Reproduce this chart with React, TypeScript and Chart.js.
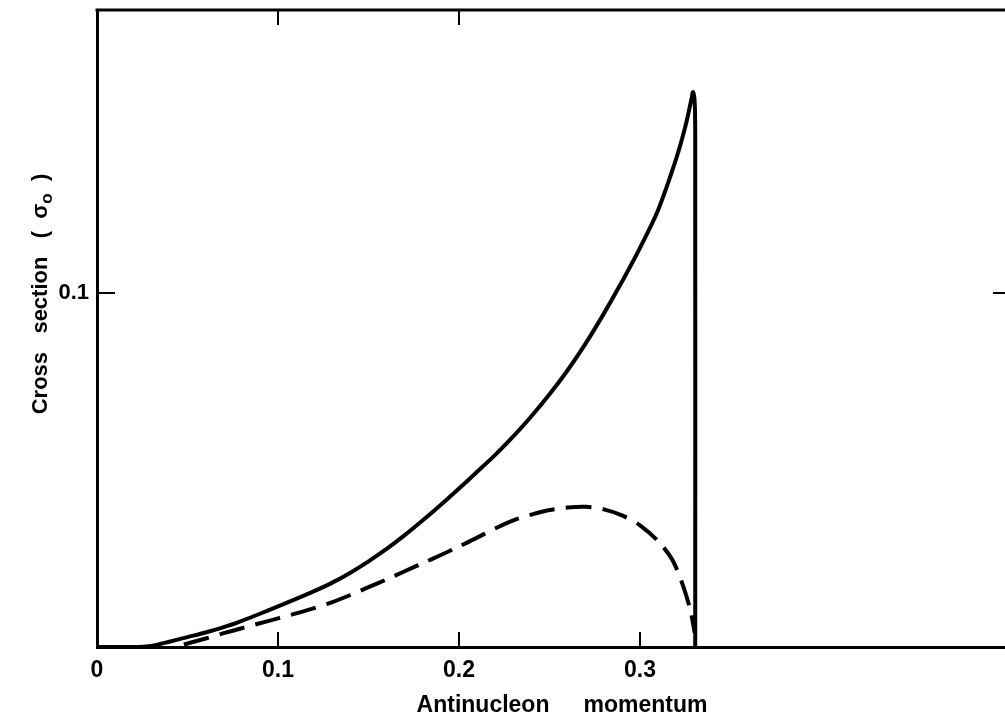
import React, { useEffect, useRef } from "react";
import { Chart, registerables } from "chart.js";

Chart.register(...registerables);

// Total cross section (solid) and partial contribution (dashed) vs antinucleon momentum
const solidMomentum = [0, 0.02, 0.03, 0.04, 0.05, 0.06, 0.07, 0.08, 0.09, 0.1, 0.11, 0.12, 0.13, 0.14, 0.15, 0.16, 0.17, 0.18, 0.19, 0.2, 0.21, 0.22, 0.23, 0.24, 0.25, 0.26, 0.27, 0.28, 0.29, 0.3, 0.31, 0.32, 0.325, 0.3285, 0.3293, 0.3302, 0.3305, 0.3305];
const solidCross = [0, 0, 0.0003, 0.0015, 0.0028, 0.0041, 0.0056, 0.0074, 0.0094, 0.0115, 0.0136, 0.0158, 0.0182, 0.021, 0.0242, 0.0277, 0.0316, 0.0358, 0.0402, 0.0448, 0.0495, 0.0543, 0.0595, 0.0652, 0.0714, 0.0782, 0.0858, 0.0942, 0.1032, 0.1128, 0.1235, 0.138, 0.147, 0.155, 0.1568, 0.154, 0.145, 0];

const dashedMomentum = [0.048, 0.06, 0.07, 0.08, 0.09, 0.1, 0.11, 0.12, 0.13, 0.14, 0.15, 0.16, 0.17, 0.18, 0.19, 0.2, 0.21, 0.22, 0.23, 0.24, 0.25, 0.26, 0.27, 0.28, 0.29, 0.3, 0.31, 0.318, 0.324, 0.328, 0.3302];
const dashedCross = [0.0007, 0.0024, 0.0039, 0.0053, 0.0067, 0.0081, 0.0095, 0.011, 0.0127, 0.0147, 0.0169, 0.0191, 0.0214, 0.0237, 0.026, 0.0284, 0.0309, 0.0335, 0.0358, 0.0374, 0.0387, 0.0394, 0.0396, 0.0389, 0.0372, 0.0344, 0.0299, 0.0245, 0.017, 0.01, 0.004];

const xTickValues = [0, 0.1, 0.2, 0.3];
const xTickLabels = ["0", "0.1", "0.2", "0.3"];
const yTickValues = [0.1];
const yTickLabels = ["0.1"];

const bottomMarks = [0.1, 0.2, 0.3];
const topMarks = [0.1, 0.2];
const leftMarks = [0.1];
const rightMarks = [0.1];

const xTitleWords = ["Antinucleon", "momentum"];
const yTitleMain = "Cross   section   (  \u03c3";
const yTitleSub = "o";
const yTitleEnd = "  )";

const INK = "#000";
const FONT = "'Liberation Sans', Arial, sans-serif";

const toPoints = (xs: number[], ys: number[]) => xs.map((x, i) => ({ x, y: ys[i] }));

const framePlugin = {
  id: "frameMarks",
  afterDraw(chart: any) {
    const { ctx, chartArea, scales } = chart;
    const xs = scales.x;
    const ys = scales.y;
    const L = 15;
    ctx.save();
    ctx.strokeStyle = INK;
    ctx.lineCap = "butt";
    // top frame line
    ctx.lineWidth = 3;
    ctx.beginPath();
    ctx.moveTo(chartArea.left - 1.5, chartArea.top);
    ctx.lineTo(chartArea.right + 2, chartArea.top);
    ctx.stroke();
    // inward tick marks
    ctx.lineWidth = 2;
    ctx.beginPath();
    bottomMarks.forEach((v) => {
      const px = Math.round(xs.getPixelForValue(v));
      ctx.moveTo(px, chartArea.bottom);
      ctx.lineTo(px, chartArea.bottom - L);
    });
    topMarks.forEach((v) => {
      const px = Math.round(xs.getPixelForValue(v));
      ctx.moveTo(px, chartArea.top);
      ctx.lineTo(px, chartArea.top + L);
    });
    leftMarks.forEach((v) => {
      const py = Math.round(ys.getPixelForValue(v));
      ctx.moveTo(chartArea.left, py);
      ctx.lineTo(chartArea.left + L + 3, py);
    });
    rightMarks.forEach((v) => {
      const py = Math.round(ys.getPixelForValue(v));
      ctx.moveTo(chartArea.right, py);
      ctx.lineTo(chartArea.right - L, py);
    });
    ctx.stroke();

    // x axis title
    ctx.fillStyle = INK;
    ctx.font = `bold 23px ${FONT}`;
    ctx.textBaseline = "middle";
    ctx.textAlign = "left";
    const gap = 34;
    const w0 = ctx.measureText(xTitleWords[0]).width;
    const w1 = ctx.measureText(xTitleWords[1]).width;
    const total = w0 + gap + w1;
    const cx = 562;
    const cy = 706;
    ctx.fillText(xTitleWords[0], cx - total / 2, cy);
    ctx.fillText(xTitleWords[1], cx - total / 2 + w0 + gap, cy);

    // y axis title (rotated)
    ctx.translate(41, 294);
    ctx.rotate(-Math.PI / 2);
    ctx.font = `bold 22px ${FONT}`;
    const mW = ctx.measureText(yTitleMain).width;
    ctx.font = `bold 17px ${FONT}`;
    const sW = ctx.measureText(yTitleSub).width;
    ctx.font = `bold 22px ${FONT}`;
    const eW = ctx.measureText(yTitleEnd).width;
    const tW = mW + sW + eW;
    let x0 = -tW / 2;
    ctx.fillText(yTitleMain, x0, 0);
    x0 += mW;
    ctx.font = `bold 17px ${FONT}`;
    ctx.fillText(yTitleSub, x0, 6);
    x0 += sW;
    ctx.font = `bold 22px ${FONT}`;
    ctx.fillText(yTitleEnd, x0, 0);
    ctx.restore();
  },
};

export default function App() {
  const canvasRef = useRef<HTMLCanvasElement | null>(null);

  useEffect(() => {
    const canvas = canvasRef.current;
    if (!canvas) return;
    const chart = new Chart(canvas, {
      type: "scatter",
      data: {
        datasets: [
          {
            label: "total",
            data: toPoints(solidMomentum, solidCross),
            showLine: true,
            borderColor: INK,
            borderWidth: 4,
            pointRadius: 0,
            tension: 0.3,
            borderCapStyle: "round",
            borderJoinStyle: "round",
          },
          {
            label: "partial",
            data: toPoints(dashedMomentum, dashedCross),
            showLine: true,
            borderColor: INK,
            borderWidth: 4,
            borderDash: [26, 11],
            pointRadius: 0,
            tension: 0.3,
          },
        ],
      },
      options: {
        responsive: false,
        animation: false,
        devicePixelRatio: 1,
        layout: { padding: { top: 10, right: 4, left: 0, bottom: 0 } },
        plugins: {
          legend: { display: false },
          tooltip: { enabled: false },
          title: { display: false },
        },
        scales: {
          x: {
            type: "linear",
            min: 0,
            max: 0.5033,
            grid: { display: false, drawTicks: false },
            border: { display: true, width: 3, color: INK },
            afterBuildTicks: (s: any) => {
              s.ticks = xTickValues.map((v) => ({ value: v }));
            },
            afterFit: (s: any) => {
              s.height = 79;
              s.paddingLeft = 0;
              s.paddingRight = 0;
            },
            ticks: {
              color: INK,
              font: { family: FONT, size: 23, weight: "bold" },
              padding: 10,
              maxRotation: 0,
              autoSkip: false,
              callback: (v: any) => {
                const i = xTickValues.findIndex((t) => Math.abs(t - Number(v)) < 1e-9);
                return i >= 0 ? xTickLabels[i] : "";
              },
            },
          },
          y: {
            type: "linear",
            min: 0,
            max: 0.18,
            grid: { display: false, drawTicks: false },
            border: { display: true, width: 3, color: INK },
            afterBuildTicks: (s: any) => {
              s.ticks = yTickValues.map((v) => ({ value: v }));
            },
            afterFit: (s: any) => {
              s.width = 97;
              s.paddingTop = 0;
              s.paddingBottom = 0;
            },
            ticks: {
              color: INK,
              font: { family: FONT, size: 22, weight: "bold" },
              padding: 8,
              autoSkip: false,
              callback: (v: any) => {
                const i = yTickValues.findIndex((t) => Math.abs(t - Number(v)) < 1e-9);
                return i >= 0 ? yTickLabels[i] : "";
              },
            },
          },
        },
      },
      plugins: [framePlugin],
    });
    return () => chart.destroy();
  }, []);

  return (
    <div
      style={{
        position: "fixed",
        left: 0,
        top: 0,
        width: 1005,
        height: 726,
        overflow: "hidden",
        background: "#fff",
      }}
    >
      <canvas ref={canvasRef} width={1012} height={726} style={{ display: "block" }} />
    </div>
  );
}
